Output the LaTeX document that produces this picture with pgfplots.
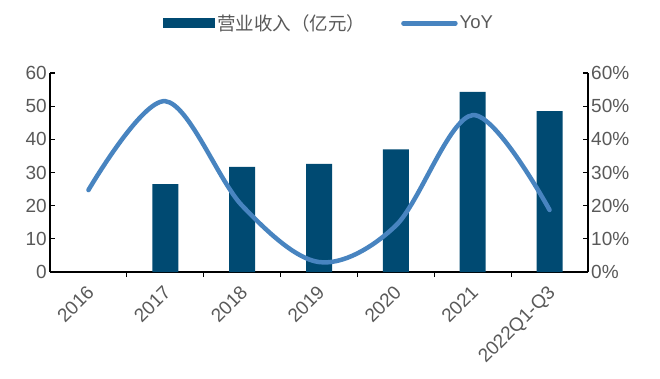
\documentclass[border=0pt]{standalone}
\usepackage{pgfplots}
\pgfplotsset{compat=1.18}
\usepackage{fontspec}
\setmainfont{Liberation Sans}
\newfontfamily\cjk{Noto Sans CJK SC}
\definecolor{barc}{RGB}{0,74,114}
\definecolor{linec}{RGB}{72,132,192}
\definecolor{txt}{RGB}{89,89,89}
\begin{document}
\begin{tikzpicture}
\path[use as bounding box] (-50pt,-106pt) rectangle (610pt,272pt);
\begin{axis}[
  scale only axis, width=538pt, height=199pt,
  xmin=-0.5, xmax=6.5, ymin=0, ymax=60,
  axis x line*=bottom, axis y line*=left,
  axis line style={black, line width=1.2pt},
  tick align=inside,
  xtick={0,...,6},
  xticklabels={2016,2017,2018,2019,2020,2021,2022Q1-Q3},
  major x tick style={draw=none},
  minor xtick={0.5,1.5,...,5.5},
  minor tick length=5pt,
  major tick length=5pt,
  every tick/.style={black, line width=1.2pt},
  ytick={0,10,...,60},
  tick label style={font=\fontsize{19}{22}\selectfont, text=txt},
  /pgf/number format/assume math mode=true,
  xticklabel style={rotate=45, anchor=north east, inner sep=2pt, xshift=-5pt, yshift=-1pt},
  yticklabel style={inner sep=3pt},
  ybar, bar width=26pt,
  legend style={draw=none, fill=none, at={(0.21,1.25)}, anchor=west,
    legend columns=2, font=\fontsize{18.5}{21}\selectfont, text=txt,
    /tikz/every even column/.append style={column sep=34pt},
    inner sep=0pt, nodes={inner sep=2pt}},
  legend cell align=left,
]
\addplot[fill=barc, draw=none,
  legend image code/.code={\fill[barc] (0pt,-5pt) rectangle (52pt,5pt);}]
  coordinates {(1,26.5) (2,31.7) (3,32.6) (4,37.0) (5,54.3) (6,48.5)};
\addlegendentry{\cjk 营业收入（亿元）}
\addlegendimage{line width=4.5pt, color=linec,
  legend image code/.code={\draw[line cap=round] (2pt,0pt)--(54pt,0pt);}}
\addlegendentry{YoY}
\end{axis}
\begin{axis}[
  scale only axis, width=538pt, height=199pt,
  xmin=-0.5, xmax=6.5, ymin=0, ymax=60,
  hide x axis,
  axis y line*=right,
  axis line style={black, line width=1.2pt},
  tick align=inside,
  major tick length=5pt,
  every tick/.style={black, line width=1.2pt},
  ytick={0,10,...,60},
  yticklabel={\pgfmathprintnumber{\tick}\%},
  tick label style={font=\fontsize{19}{22}\selectfont, text=txt},
  /pgf/number format/assume math mode=true,
  yticklabel style={inner sep=3pt},
]
\addplot[color=linec, line width=4.5pt, smooth, tension=0.55, line cap=round]
  coordinates {(0,24.7) (1,51.5) (2,20) (3,3) (4,14) (5,47.3) (6,18.7)};
\end{axis}
\end{tikzpicture}
\end{document}
